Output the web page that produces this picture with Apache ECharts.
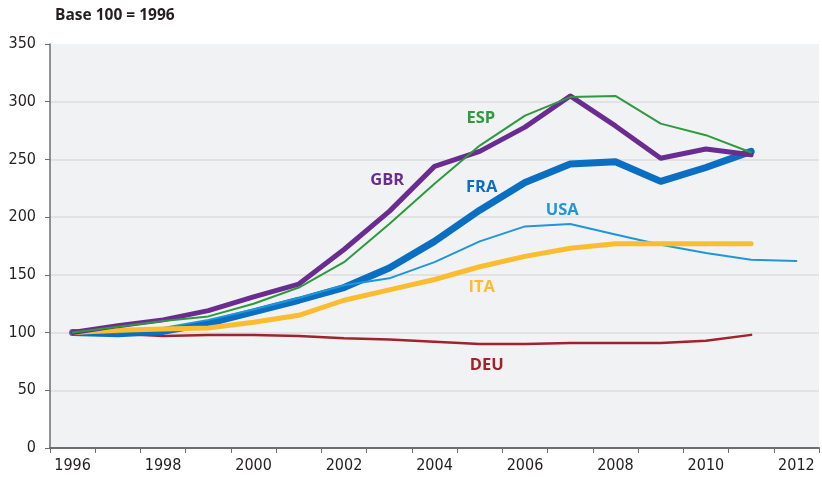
<!DOCTYPE html>
<html>
<head>
<meta charset="utf-8">
<script src="https://cdn.jsdelivr.net/npm/echarts@6/dist/echarts.min.js"></script>
<style>html,body{margin:0;padding:0;background:#fff}#c{width:822px;height:477px}</style>
</head>
<body>
<div id="c"></div>
<script>
var years = ['1996','1997','1998','1999','2000','2001','2002','2003','2004','2005','2006','2007','2008','2009','2010','2011','2012'];
var ESP = [100,105,110,114,125,139,161,194,229,262,288,304,305,281,271,256,null];
var GBR = [100,106,111,119,131,142,172,205,244,257,278,305,279,251,259,254,null];
var FRA = [100,99,101,108,118,128,139,156,179,206,230,246,248,231,243,257,null];
var USA = [100,100,104,111,120,130,141,147,161,179,192,194,185,176,169,163,162];
var ITA = [100,102,103,104,109,115,128,137,146,157,166,173,177,177,177,177,null];
var DEU = [100,99,97,98,98,97,95,94,92,90,90,91,91,91,93,98,null];
var yTicks = [0,50,100,150,200,250,300,350];

var labelFont = '"Open Sans", sans-serif';
var tickFont = '"DejaVu Sans Condensed", "Liberation Sans Narrow", "DejaVu Sans", sans-serif';

function tag(text, year, val, color, dx) {
  return {
    symbol: 'circle', symbolSize: 0,
    data: [{ coord: [year, val] }],
    label: { show: true, position: 'inside', formatter: text, color: color,
      fontFamily: labelFont, fontWeight: 700, fontSize: 16.5, offset: [dx || 0, 0] },
    animation: false, silent: true
  };
}

function line(name, data, color, width, z, mp) {
  return {
    name: name, type: 'line', data: data, z: z, symbol: 'none', smooth: false,
    connectNulls: false, animation: false,
    lineStyle: { color: color, width: width, cap: 'round', join: 'round' },
    markPoint: mp
  };
}

var chart = echarts.init(document.getElementById('c'), null, { renderer: 'canvas' });
chart.setOption({
  backgroundColor: '#ffffff',
  animation: false,
  title: {
    text: 'Base 100 = 1996', left: 50, top: 3,
    textStyle: { fontFamily: labelFont, fontWeight: 700, fontSize: 15.5, color: '#231f20' }
  },
  grid: { left: 50, right: 3, top: 44, bottom: 29, show: true, backgroundColor: '#f1f2f4', borderWidth: 0 },
  xAxis: {
    type: 'category', data: years, boundaryGap: true,
    axisLine: { lineStyle: { color: '#6d6e71', width: 2 } },
    axisTick: { show: true, interval: 0, length: 5, lineStyle: { color: '#6d6e71', width: 1 } },
    axisLabel: { interval: 1, margin: 10, fontFamily: tickFont, fontSize: 16, color: '#231f20' },
    splitLine: { show: false }
  },
  yAxis: {
    type: 'value', min: yTicks[0], max: yTicks[yTicks.length - 1], interval: 50,
    axisLine: { show: true, lineStyle: { color: '#6d6e71', width: 1.5 } },
    axisTick: { show: true, length: 5, lineStyle: { color: '#6d6e71' } },
    axisLabel: { margin: 14, fontFamily: tickFont, fontSize: 16, color: '#231f20' },
    splitLine: { show: true, lineStyle: { color: ['rgba(0,0,0,0)','#dcdde0','#dcdde0','#dcdde0','#dcdde0','#dcdde0','#dcdde0','rgba(0,0,0,0)'], width: 1.5 } }
  },
  series: [
    line('DEU', DEU, '#a0232b', 2.5, 2, tag('DEU', '2005', 71.5, '#a0232b', 7)),
    line('FRA', FRA, '#0a6fc2', 7, 3, tag('FRA', '2005', 225.5, '#0a6fc2', 2)),
    line('USA', USA, '#1f96d8', 2, 4, tag('USA', '2007', 206, '#1f96d8', -8)),
    line('ITA', ITA, '#fbbd2f', 5, 5, tag('ITA', '2005', 139, '#fbbd2f', 2)),
    line('GBR', GBR, '#6a2c91', 5, 6, tag('GBR', '2003', 232, '#6a2c91', -2)),
    line('ESP', ESP, '#2e9a3e', 2, 7, tag('ESP', '2005', 286, '#2e9a3e', 1))
  ]
});
</script>
</body>
</html>
